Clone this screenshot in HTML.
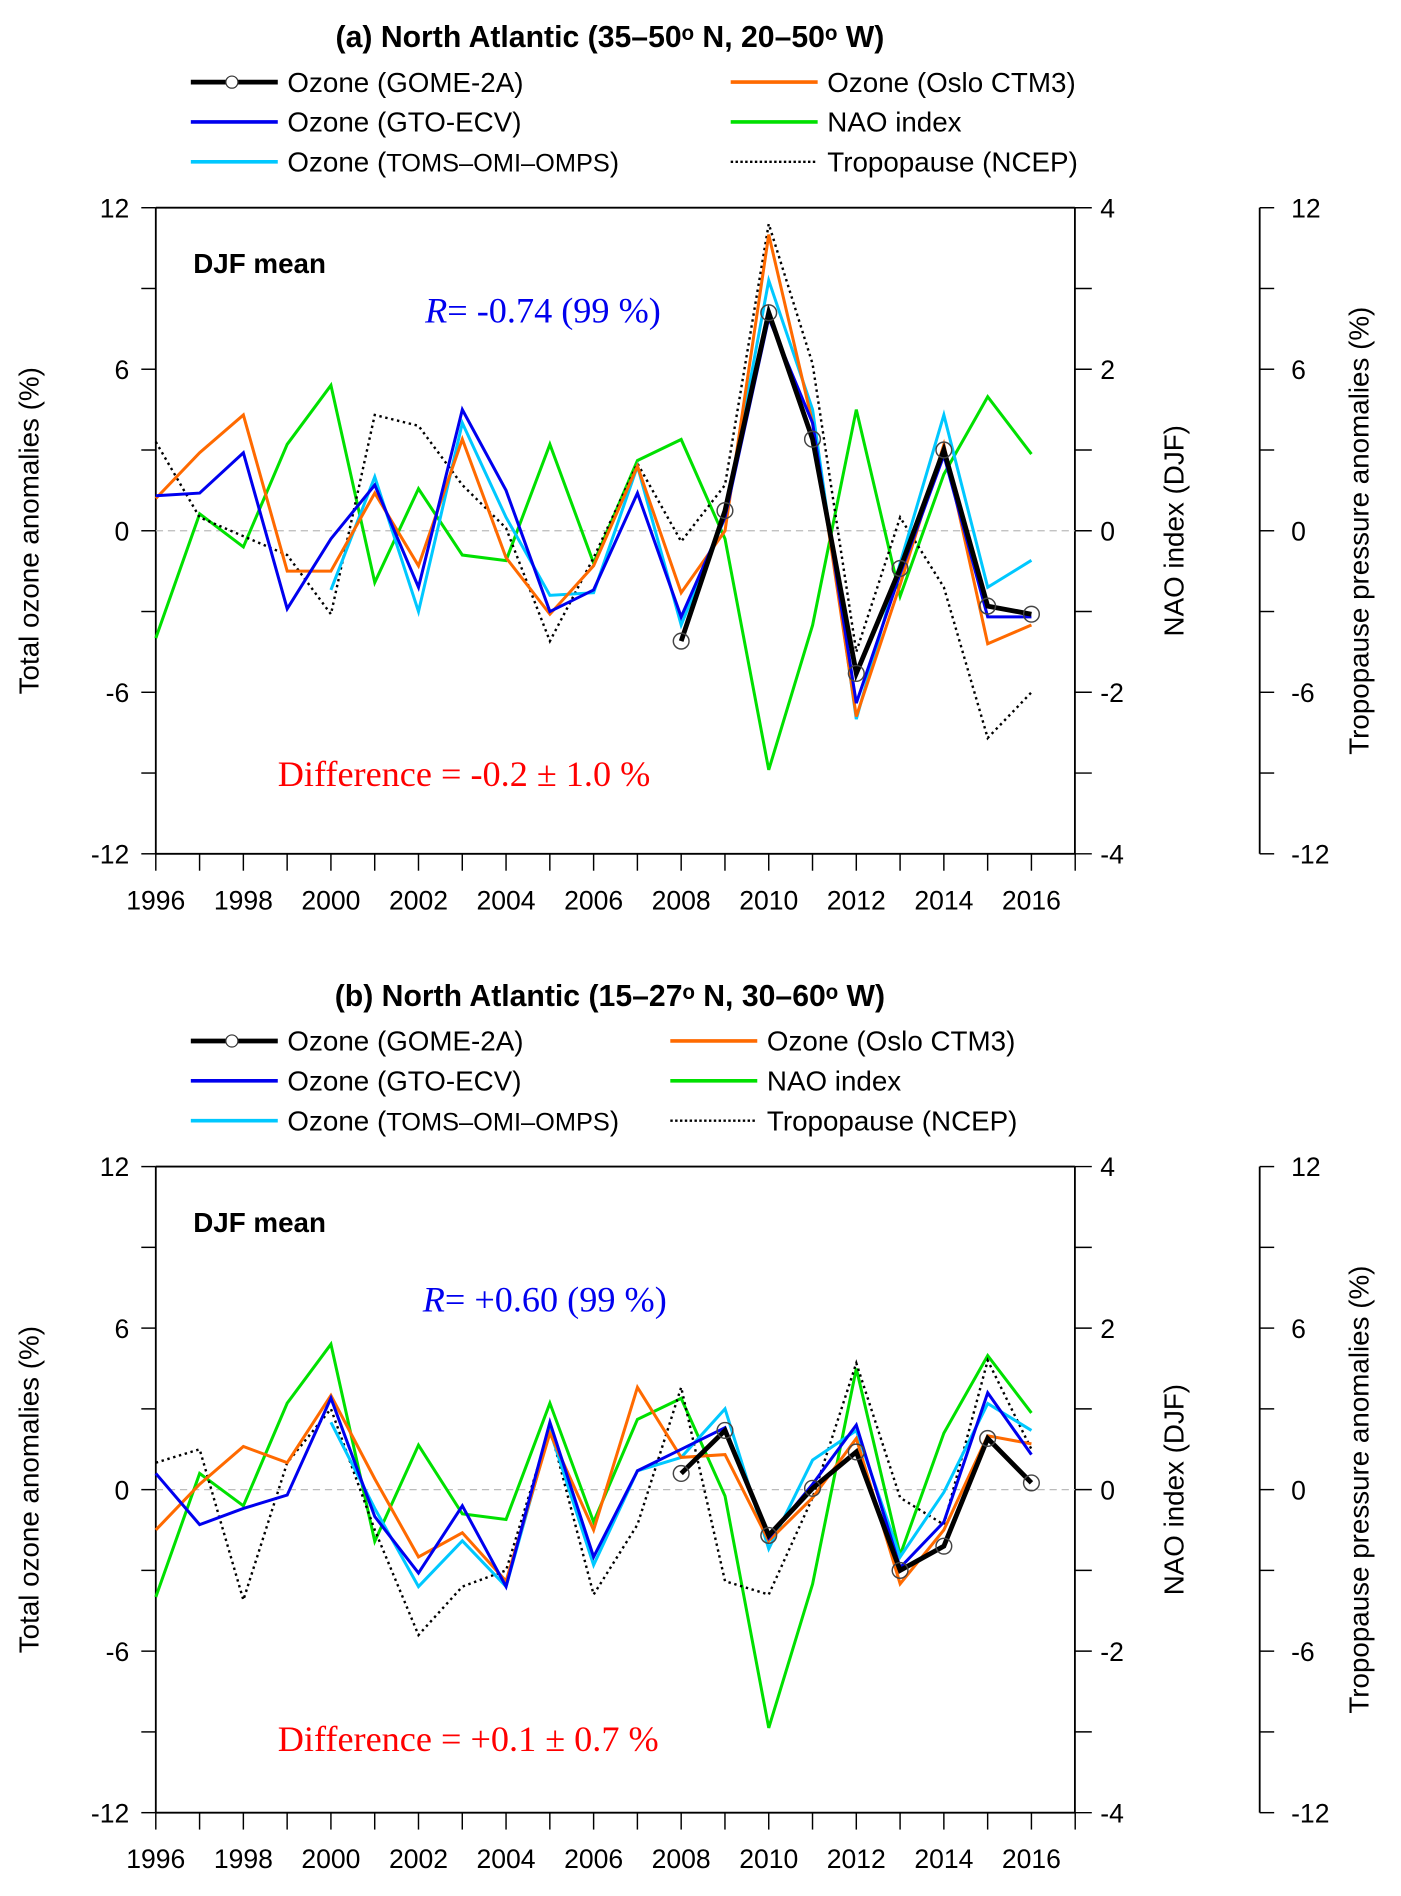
<!DOCTYPE html>
<html><head><meta charset="utf-8"><style>
html,body{margin:0;padding:0;background:#fff;}
svg{display:block;}
text{font-family:"Liberation Sans",Arial,sans-serif;}
text.serif{font-family:"Liberation Serif","Times New Roman",serif;}
</style></head><body>
<svg id="fig" width="1401" height="1896" viewBox="0 0 1160 1570" preserveAspectRatio="none" xmlns="http://www.w3.org/2000/svg"></svg>
<script>
const years = [1996,1997,1998,1999,2000,2001,2002,2003,2004,2005,2006,2007,2008,2009,2010,2011,2012,2013,2014,2015,2016];
const xTickLabels = ["1996","1998","2000","2002","2004","2006","2008","2010","2012","2014","2016"];
const ozoneTicks = [-12,-6,0,6,12];
const naoTicks = [-4,-2,0,2,4];
// Panel a
const aGome = [null,null,null,null,null,null,null,null,null,null,null,null,-4.1,0.75,8.1,3.4,-5.3,-1.4,3.0,-2.8,-3.1];
const aGto = [1.3,1.4,2.9,-2.9,-0.3,1.7,-2.1,4.5,1.5,-3.0,-2.2,1.4,-3.2,0.5,7.9,4.0,-6.4,-1.6,2.8,-3.2,-3.2];
const aToms = [null,null,null,null,-2.2,2.0,-3.0,4.0,0.5,-2.4,-2.3,2.4,-3.5,0.5,9.3,4.5,-7.0,-1.2,4.3,-2.1,-1.1];
const aOslo = [1.2,2.9,4.3,-1.5,-1.5,1.4,-1.3,3.4,-1.0,-3.1,-1.3,2.4,-2.3,0.0,11.0,4.0,-6.9,-2.0,3.2,-4.2,-3.5];
const aNao = [-1.33,0.21,-0.2,1.07,1.8,-0.64,0.52,-0.3,-0.37,1.07,-0.4,0.87,1.13,-0.1,-2.96,-1.17,1.5,-0.81,0.7,1.66,0.95];
const aTrop = [3.3,0.5,-0.2,-0.9,-3.1,4.3,3.9,1.7,0.1,-4.1,-1.0,2.5,-0.4,1.7,11.4,6.2,-4.5,0.5,-2.1,-7.7,-6.0];
// Panel b
const bGome = [null,null,null,null,null,null,null,null,null,null,null,null,0.6,2.2,-1.7,0.05,1.4,-3.0,-2.1,1.9,0.25];
const bGto = [0.6,-1.3,-0.7,-0.2,3.4,-1.0,-3.1,-0.6,-3.6,2.5,-2.5,0.7,1.5,2.3,-1.8,0.2,2.4,-2.9,-1.2,3.6,1.3];
const bToms = [null,null,null,null,2.5,-0.7,-3.6,-1.9,-3.6,2.2,-2.8,0.7,1.2,3.0,-2.2,1.1,2.2,-2.5,-0.1,3.2,2.2];
const bOslo = [-1.5,0.2,1.6,1.0,3.5,0.4,-2.5,-1.6,-3.4,2.1,-1.5,3.8,1.2,1.3,-1.9,-0.3,1.9,-3.5,-1.5,2.0,1.7];
const bNao = [-1.33,0.2,-0.2,1.07,1.8,-0.64,0.55,-0.3,-0.37,1.07,-0.4,0.87,1.13,-0.08,-2.95,-1.17,1.5,-0.81,0.7,1.66,0.95];
const bTrop = [1.0,1.5,-4.1,1.0,3.0,-1.5,-5.4,-3.6,-3.0,2.3,-3.9,-1.3,3.8,-3.4,-3.9,-0.3,4.7,-0.3,-1.3,4.8,1.5];

const NS="http://www.w3.org/2000/svg";
const svg=document.getElementById('fig');
function mk(tag,attrs,parent,txt){const e=document.createElementNS(NS,tag);for(const k in attrs)e.setAttribute(k,attrs[k]);if(txt!==undefined)e.textContent=txt;(parent||svg).appendChild(e);return e;}

function panel(cfg){
  const g=mk('g',{});
  
  
  const L=129,R=890,T=cfg.top,B=cfg.top+535,RA=1043;
  const x=yr=>L+(yr-1996)*(854-L)/20;
  const yo=v=>T+(12-v)*(B-T)/24;
  const yn=v=>T+(4-v)*(B-T)/8;
  const t=mk('text',{x:505,y:cfg.top-133,'font-size':25,'font-weight':'bold','text-anchor':'middle'},g,cfg.title);
  
  
  const rx=cfg.legRight;
  const leg=[
    [158,68,'Ozone (GOME-2A)','#000',4,null,true],
    [158,101,'Ozone (GTO-ECV)','#0000ee',3,null],
    [158,134,'Ozone (TOMS–OMI–OMPS)','#00c8ff',3,null],
    [rx,68,'Ozone (Oslo CTM3)','#ff6a00',3,null],
    [rx,101,'NAO index','#00e000',3,null],
    [rx,134,'Tropopause (NCEP)','#000',2,'2,2']];
  leg.forEach(l=>{
    const lg=mk('g',{},g);
    
    
    const yy=cfg.top-172+l[1];
    const a={x1:l[0],x2:l[0]+72,y1:yy,y2:yy,stroke:l[3],'stroke-width':l[4]};
    if(l[5])a['stroke-dasharray']=l[5];
    mk('line',a,lg);
    if(l[6])mk('circle',{cx:l[0]+34,cy:yy,r:5,fill:'#fff',stroke:'#333','stroke-width':1},lg);
    const txt=l[2];
    const tt=mk('text',{x:l[0]+80,y:yy+8,'font-size':23},lg);
    const m=txt.match(/^(Ozone )\((TOMS.*)\)$/);
    if(m){mk('tspan',{},tt,'Ozone (');mk('tspan',{'font-size':21},tt,m[2]);mk('tspan',{},tt,')');}
    else tt.textContent=txt;
  });
  mk('line',{x1:L,y1:T,x2:R,y2:T,stroke:'#000','stroke-width':1.5},g);
  mk('line',{x1:L,y1:B,x2:R,y2:B,stroke:'#000','stroke-width':1.5},g);
  mk('line',{x1:L,y1:T,x2:L,y2:B,stroke:'#000','stroke-width':1.5},g);
  mk('line',{x1:R,y1:T,x2:R,y2:B,stroke:'#000','stroke-width':1.5},g);
  mk('line',{x1:RA,y1:T,x2:RA,y2:B,stroke:'#000','stroke-width':1.5},g);
  mk('line',{x1:L,y1:yo(0),x2:R,y2:yo(0),stroke:'#bbb','stroke-width':1,'stroke-dasharray':'6,4'},g);
  for(let v=-12;v<=12;v+=3){
    mk('line',{x1:L,x2:L-12,y1:yo(v),y2:yo(v),stroke:'#000','stroke-width':1.2},g);
    mk('line',{x1:RA,x2:RA+12,y1:yo(v),y2:yo(v),stroke:'#000','stroke-width':1.2},g);
  }
  ozoneTicks.forEach(v=>{
    const a=mk('text',{x:L-22,y:yo(v)+8,'font-size':22,'text-anchor':'end'},g,String(v));
    
    
    const b=mk('text',{x:RA+26,y:yo(v)+8,'font-size':22},g,String(v));
    
    
  });
  for(let v=-4;v<=4;v+=1) mk('line',{x1:R,x2:R+14,y1:yn(v),y2:yn(v),stroke:'#000','stroke-width':1.2},g);
  naoTicks.forEach(v=>{
    const a=mk('text',{x:R+21,y:yn(v)+8,'font-size':22},g,String(v));
    
    
  });
  for(let yr=1996;yr<=2017;yr++) mk('line',{x1:x(yr),x2:x(yr),y1:B,y2:B+14,stroke:'#000','stroke-width':1.2},g);
  xTickLabels.forEach(s=>{
    const a=mk('text',{x:x(+s),y:B+46,'font-size':22,'text-anchor':'middle'},g,s);
    
    
  });
  const yt=[[32,'Total ozone anomalies (%)','left-axis-title'],[980,'NAO index (DJF)','nao-axis-title'],[1133,'Tropopause pressure anomalies (%)','tropopause-axis-title']];
  yt.forEach(a=>{
    const cy=(T+B)/2;
    const e=mk('text',{x:a[0],y:cy,'font-size':23,'text-anchor':'middle',transform:`rotate(-90 ${a[0]} ${cy})`},g,a[1]);
    
    
  });
  const dj=mk('text',{x:160,y:T+54,'font-size':23,'font-weight':'bold'},g,'DJF mean');
  
  
  const rt=mk('text',{x:cfg.rX,y:T+cfg.rY,'font-size':30,fill:'#0000ee',class:'serif'},g);
  
  
  mk('tspan',{'font-style':'italic'},rt,'R');mk('tspan',{},rt,cfg.r);
  const df=mk('text',{x:230,y:T+cfg.dY,'font-size':30,fill:'#ff0000',class:'serif'},g,cfg.diff);
  
  
  function line(arr,fy,color,w,name,dash){
    let d='';let pen=false;
    arr.forEach((v,i)=>{if(v===null){pen=false;return;}d+=(pen?'L':'M')+x(years[i]).toFixed(1)+','+fy(v).toFixed(1);pen=true;});
    const a={d:d,fill:'none',stroke:color,'stroke-width':w,'stroke-linejoin':'miter'};
    if(dash)a['stroke-dasharray']=dash;
    const p=mk('path',a,g);
    
    
    return p;
  }
  line(cfg.nao,yn,'#00e000',2.5,'nao-index-line');
  line(cfg.trop,yo,'#000',2,'tropopause-line','2,3');
  line(cfg.toms,yo,'#00c8ff',2.5,'ozone-toms-line');
  line(cfg.oslo,yo,'#ff6a00',2.5,'ozone-oslo-line');
  line(cfg.gto,yo,'#0000ee',2.5,'ozone-gto-line');
  line(cfg.gome,yo,'#000',4,'ozone-gome-line');
  cfg.gome.forEach((v,i)=>{if(v===null)return;
    const c=mk('circle',{cx:x(years[i]),cy:yo(v),r:6.5,fill:'none',stroke:'#444','stroke-width':1.2},g);
    
    
  });
}
panel({name:'panel-a',top:172,title:'(a) North Atlantic (35–50ᵒ N, 20–50ᵒ W)',legRight:605,gome:aGome,gto:aGto,toms:aToms,oslo:aOslo,nao:aNao,trop:aTrop,rX:352,rY:95,r:'= -0.74 (99 %)',dY:479,diff:'Difference = -0.2 ± 1.0 %'});
panel({name:'panel-b',top:966,title:'(b) North Atlantic (15–27ᵒ N, 30–60ᵒ W)',legRight:555,gome:bGome,gto:bGto,toms:bToms,oslo:bOslo,nao:bNao,trop:bTrop,rX:350,rY:120,r:'= +0.60 (99 %)',dY:484,diff:'Difference = +0.1 ± 0.7 %'});
</script>
</body></html>
